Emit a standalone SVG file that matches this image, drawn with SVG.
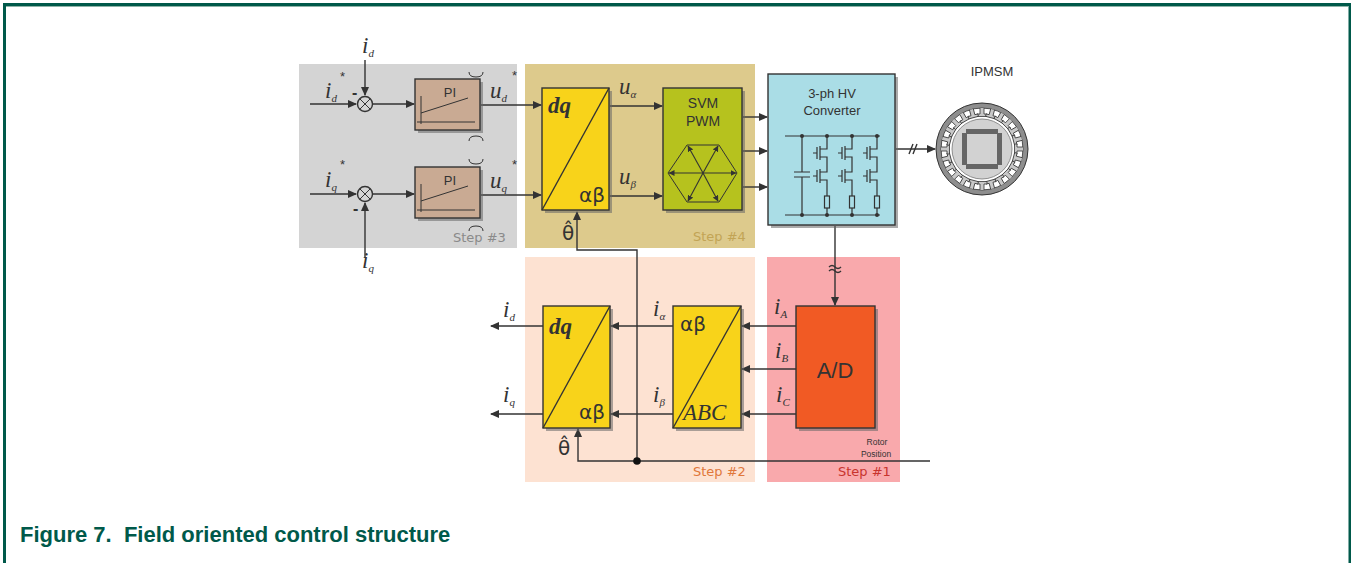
<svg xmlns="http://www.w3.org/2000/svg" xmlns:xlink="http://www.w3.org/1999/xlink" width="1351" height="563" viewBox="0 0 1351 563">
<style>
.v{font-family:"Liberation Serif",serif;font-style:italic;font-size:23px;fill:#333}
.s{font-size:11px}
.st{font-size:13px}
.gr{font-family:"DejaVu Sans",sans-serif;font-size:20px;fill:#333}
.sans{font-family:"Liberation Sans",Arial,sans-serif;fill:#333}
.step{font-family:"DejaVu Sans",sans-serif;font-size:13px}
.ln{fill:none;stroke:#333;stroke-width:1.4}
.arr{fill:none;stroke:#333;stroke-width:1.4;marker-end:url(#ah)}
.box{stroke:#333;stroke-width:1.4}
.sh{fill:#666;opacity:0.55}
.thin{fill:none;stroke:#333;stroke-width:1}
</style>
<defs>
<marker id="ah" markerUnits="userSpaceOnUse" markerWidth="9" markerHeight="8" refX="8" refY="4" orient="auto"><path d="M0,0 L9,4 L0,8 z" fill="#333"/></marker>
<marker id="ahs" markerUnits="userSpaceOnUse" markerWidth="6" markerHeight="6" refX="5.5" refY="3" orient="auto"><path d="M0,0 L6,3 L0,6 z" fill="#333"/></marker>
<path id="tooth" d="M-2,-41 V-35 H-5 V-32.5 H5 V-35 H2 V-41" fill="#c8c8c8" stroke="#333" stroke-width="0.8"/>
</defs>

<!-- frame -->
<rect x="3" y="3" width="1348" height="3" fill="#00594a"/>
<rect x="6" y="6" width="1342" height="1" fill="#8fb3a8"/>
<rect x="3" y="3" width="3" height="560" fill="#00594a"/>
<rect x="1348.5" y="3" width="2.5" height="560" fill="#00594a"/>

<!-- step regions -->
<g id="step3"><rect x="299" y="64" width="218" height="184" fill="#d4d4d4"/>
<text class="step" x="453" y="242" fill="#8a8a8a">Step #3</text></g>
<g id="step4"><rect x="525" y="64" width="230" height="184" fill="#ddca8c"/>
<text class="step" x="693" y="241" fill="#c2a455">Step #4</text></g>
<g id="step2"><rect x="525" y="257" width="230" height="225" fill="#fde2d2"/>
<text class="step" x="693" y="476" fill="#e0773a">Step #2</text></g>
<g id="step1"><rect x="767" y="257" width="133" height="225" fill="#f9a9ac"/>
<text class="step" x="838" y="476" fill="#c8342e">Step #1</text></g>

<!-- connectors -->
<g id="connectors">
<path class="arr" d="M310,104 H356"/>
<path class="arr" d="M365,60 V95"/>
<path class="arr" d="M373,104 H414"/>
<path class="arr" d="M481,105 H541"/>
<path class="arr" d="M310,194 H356"/>
<path class="arr" d="M365,258 V203"/>
<path class="arr" d="M373,194 H414"/>
<path class="arr" d="M481,195 H541"/>
<path class="arr" d="M610,106 H662"/>
<path class="arr" d="M610,196 H662"/>
<path class="arr" d="M743,117 H767"/>
<path class="arr" d="M743,151 H767"/>
<path class="arr" d="M743,187 H767"/>
<path class="arr" d="M896,149 H935"/>
<path class="ln" d="M909,154 L913,144 M913,154 L917,144"/>
<path class="arr" d="M835,226 V305"/>
<path class="ln" d="M829,267 Q832,264 835,267 T841,267 M829,271 Q832,268 835,271 T841,271"/>
<path class="arr" d="M796,326 H742"/>
<path class="arr" d="M796,369 H742"/>
<path class="arr" d="M796,414 H742"/>
<path class="arr" d="M673,326 H611"/>
<path class="arr" d="M673,414 H611"/>
<path class="arr" d="M543,326 H491"/>
<path class="arr" d="M543,414 H491"/>
<path class="arr" d="M930,461 H578 V429"/>
<path class="arr" d="M637,461 V250 H577 V212"/>
<circle cx="637" cy="461" r="3.8" fill="#111"/>
</g>

<!-- summing junctions -->
<g id="sum1"><circle cx="365" cy="104" r="7.5" fill="none" stroke="#333" stroke-width="1.4"/><path class="thin" d="M360,99 L370,109 M370,99 L360,109"/>
<text class="sans" x="352" y="98" font-size="16" font-weight="bold">-</text></g>
<g id="sum2"><circle cx="365" cy="194" r="7.5" fill="none" stroke="#333" stroke-width="1.4"/><path class="thin" d="M360,189 L370,199 M370,189 L360,199"/>
<text class="sans" x="353" y="214" font-size="16" font-weight="bold">-</text></g>

<!-- PI blocks -->
<g id="pi1">
<rect class="sh" x="418" y="82" width="65" height="51"/>
<rect class="box" x="415" y="79" width="65" height="51" fill="#c9aa93"/>
<text class="sans" x="450" y="97" font-size="13" text-anchor="middle">PI</text>
<path class="thin" d="M421,124 V96 M417,122 H475 M421,113 L468,98"/>
</g>
<g id="pi2">
<rect class="sh" x="418" y="170" width="65" height="51"/>
<rect class="box" x="415" y="167" width="65" height="51" fill="#c9aa93"/>
<text class="sans" x="450" y="185" font-size="13" text-anchor="middle">PI</text>
<path class="thin" d="M421,212 V184 M417,210 H475 M421,201 L468,186"/>
</g>
<path class="thin" d="M469,72 Q469,77 476,77 Q483,77 483,72 M469,141 Q469,136 476,136 Q483,136 483,141 M469,159 Q469,164 476,164 Q483,164 483,159 M469,231 Q469,226 476,226 Q483,226 483,231" stroke="#555"/>

<!-- labels step 3 -->
<g id="labels3">
<text class="v" x="362" y="53">i<tspan class="s" dy="4">d</tspan></text>
<text class="v" x="325" y="98">i<tspan class="s" dy="4">d</tspan></text>
<text class="sans st" x="340" y="81">*</text>
<text class="v" x="490" y="98">u<tspan class="s" dy="4">d</tspan></text>
<text class="sans st" x="512" y="80">*</text>
<text class="v" x="325" y="187">i<tspan class="s" dy="4">q</tspan></text>
<text class="sans st" x="340" y="169">*</text>
<text class="v" x="490" y="188">u<tspan class="s" dy="4">q</tspan></text>
<text class="sans st" x="512" y="169">*</text>
<text class="v" x="362" y="268">i<tspan class="s" dy="4">q</tspan></text>
</g>

<!-- dq/ab top -->
<g id="dqab1">
<rect class="sh" x="545" y="91" width="67" height="122"/>
<rect class="box" x="542" y="88" width="67" height="122" fill="#f8d31a"/>
<path class="ln" d="M542,210 L609,88"/>
<text class="v" x="548" y="113" font-weight="bold" font-size="23">dq</text>
<text class="gr" x="579" y="202">αβ</text>
</g>
<text class="gr" x="562" y="240" font-size="19">θ̂</text>
<text class="v" x="619" y="94">u<tspan class="s" dy="4">α</tspan></text>
<text class="v" x="619" y="184">u<tspan class="s" dy="4">β</tspan></text>

<!-- SVM PWM -->
<g id="svm">
<rect class="sh" x="666" y="91" width="79" height="122"/>
<rect class="box" x="663" y="88" width="79" height="122" fill="#b6c21e"/>
<text class="sans" x="703" y="108" font-size="14" text-anchor="middle">SVM</text>
<text class="sans" x="703" y="126" font-size="14" text-anchor="middle">PWM</text>
<path class="thin" d="M668,173 L687,145 L719,145 L737,173 L719,202 L687,202 Z"/>
<g stroke="#333" stroke-width="1.1" fill="none">
<path d="M703,173 L669,173" marker-end="url(#ahs)"/>
<path d="M703,173 L736,173" marker-end="url(#ahs)"/>
<path d="M703,173 L688,146" marker-end="url(#ahs)"/>
<path d="M703,173 L718,146" marker-end="url(#ahs)"/>
<path d="M703,173 L688,201" marker-end="url(#ahs)"/>
<path d="M703,173 L718,201" marker-end="url(#ahs)"/>
</g>
</g>

<!-- converter -->
<g id="converter">
<rect class="sh" x="771" y="77" width="127" height="151"/>
<rect class="box" x="768" y="74" width="127" height="151" fill="#aadde6"/>
<text class="sans" x="832" y="98" font-size="13" text-anchor="middle">3-ph HV</text>
<text class="sans" x="832" y="115" font-size="13" text-anchor="middle">Converter</text>
<g fill="none" stroke="#333" stroke-width="1.2">
<path d="M785,136 H880 M785,215 H880"/>
<path d="M802,136 V172 M794,172 H810 M794,177 H810 M802,177 V215"/>
<path d="M827,136 V149 H820 M820,146 V160 M817,147 V159 M813,153 H817 M820,157 H827 V172 H820 M820,169 V183 M817,170 V182 M813,176 H817 M820,180 H827 V196 M827,208 V215"/>
<rect x="824.5" y="196" width="5" height="12"/>
<path d="M852,136 V149 H845 M845,146 V160 M842,147 V159 M838,153 H842 M845,157 H852 V172 H845 M845,169 V183 M842,170 V182 M838,176 H842 M845,180 H852 V196 M852,208 V215"/>
<rect x="849.5" y="196" width="5" height="12"/>
<path d="M877,136 V149 H870 M870,146 V160 M867,147 V159 M863,153 H867 M870,157 H877 V172 H870 M870,169 V183 M867,170 V182 M863,176 H867 M870,180 H877 V196 M877,208 V215"/>
<rect x="874.5" y="196" width="5" height="12"/>
</g>
<g fill="#333"><circle cx="802" cy="136" r="2"/><circle cx="827" cy="136" r="2"/><circle cx="852" cy="136" r="2"/><circle cx="877" cy="136" r="2"/>
<circle cx="802" cy="215" r="2"/><circle cx="827" cy="215" r="2"/><circle cx="852" cy="215" r="2"/><circle cx="877" cy="215" r="2"/></g>
</g>

<!-- motor -->
<g id="ipmsm">
<text class="sans" x="992" y="76" font-size="13" text-anchor="middle" fill="#555">IPMSM</text>
<g transform="translate(982,149)">
<circle r="46" fill="#8e8e8e" stroke="#333" stroke-width="1"/>
<circle r="41" fill="#fff" stroke="#333" stroke-width="0.8"/>
<use xlink:href="#tooth" href="#tooth"/>
<use xlink:href="#tooth" href="#tooth" transform="rotate(15)"/>
<use xlink:href="#tooth" href="#tooth" transform="rotate(30)"/>
<use xlink:href="#tooth" href="#tooth" transform="rotate(45)"/>
<use xlink:href="#tooth" href="#tooth" transform="rotate(60)"/>
<use xlink:href="#tooth" href="#tooth" transform="rotate(75)"/>
<use xlink:href="#tooth" href="#tooth" transform="rotate(90)"/>
<use xlink:href="#tooth" href="#tooth" transform="rotate(105)"/>
<use xlink:href="#tooth" href="#tooth" transform="rotate(120)"/>
<use xlink:href="#tooth" href="#tooth" transform="rotate(135)"/>
<use xlink:href="#tooth" href="#tooth" transform="rotate(150)"/>
<use xlink:href="#tooth" href="#tooth" transform="rotate(165)"/>
<use xlink:href="#tooth" href="#tooth" transform="rotate(180)"/>
<use xlink:href="#tooth" href="#tooth" transform="rotate(195)"/>
<use xlink:href="#tooth" href="#tooth" transform="rotate(210)"/>
<use xlink:href="#tooth" href="#tooth" transform="rotate(225)"/>
<use xlink:href="#tooth" href="#tooth" transform="rotate(240)"/>
<use xlink:href="#tooth" href="#tooth" transform="rotate(255)"/>
<use xlink:href="#tooth" href="#tooth" transform="rotate(270)"/>
<use xlink:href="#tooth" href="#tooth" transform="rotate(285)"/>
<use xlink:href="#tooth" href="#tooth" transform="rotate(300)"/>
<use xlink:href="#tooth" href="#tooth" transform="rotate(315)"/>
<use xlink:href="#tooth" href="#tooth" transform="rotate(330)"/>
<use xlink:href="#tooth" href="#tooth" transform="rotate(345)"/>
<circle r="30" fill="#d2d2d2" stroke="#777" stroke-width="0.8"/>
<rect x="-16" y="-20" width="32" height="5" fill="#666"/>
<rect x="-16" y="15" width="32" height="5" fill="#666"/>
<rect x="-20" y="-16" width="5" height="32" fill="#666"/>
<rect x="15" y="-16" width="5" height="32" fill="#666"/>
</g>
</g>

<!-- bottom dq/ab -->
<g id="dqab2">
<rect class="sh" x="546" y="309" width="67" height="122"/>
<rect class="box" x="543" y="306" width="67" height="122" fill="#f8d31a"/>
<path class="ln" d="M543,428 L610,306"/>
<text class="v" x="549" y="334" font-weight="bold" font-size="23">dq</text>
<text class="gr" x="579" y="419">αβ</text>
</g>
<text class="gr" x="558" y="455" font-size="19">θ̂</text>
<text class="v" x="503" y="317">i<tspan class="s" dy="4">d</tspan></text>
<text class="v" x="503" y="402">i<tspan class="s" dy="4">q</tspan></text>
<text class="v" x="653" y="316">i<tspan class="s" dy="4">α</tspan></text>
<text class="v" x="653" y="402">i<tspan class="s" dy="4">β</tspan></text>

<!-- ab/ABC -->
<g id="abABC">
<rect class="sh" x="676" y="309" width="68" height="122"/>
<rect class="box" x="673" y="306" width="68" height="122" fill="#f8d31a"/>
<path class="ln" d="M673,428 L741,306"/>
<text class="gr" x="680" y="331">αβ</text>
<text class="v" x="683" y="420" font-size="21">ABC</text>
</g>

<!-- A/D -->
<g id="ad">
<rect class="sh" x="799" y="309" width="79" height="122"/>
<rect class="box" x="796" y="306" width="79" height="122" fill="#f15a24"/>
<text class="sans" x="835" y="378" font-size="22" text-anchor="middle">A/D</text>
</g>
<text class="v" x="774" y="314">i<tspan class="s" dy="4">A</tspan></text>
<text class="v" x="775" y="358">i<tspan class="s" dy="4">B</tspan></text>
<text class="v" x="776" y="402">i<tspan class="s" dy="4">C</tspan></text>
<text class="sans" x="877" y="445" font-size="8.5" text-anchor="middle">Rotor</text>
<text class="sans" x="876" y="457" font-size="8.5" text-anchor="middle">Position</text>

<!-- caption -->
<text x="20" y="542" font-family="Liberation Sans, Arial, sans-serif" font-size="22" font-weight="bold" fill="#00594a">Figure 7.&#160; Field oriented control structure</text>
</svg>
